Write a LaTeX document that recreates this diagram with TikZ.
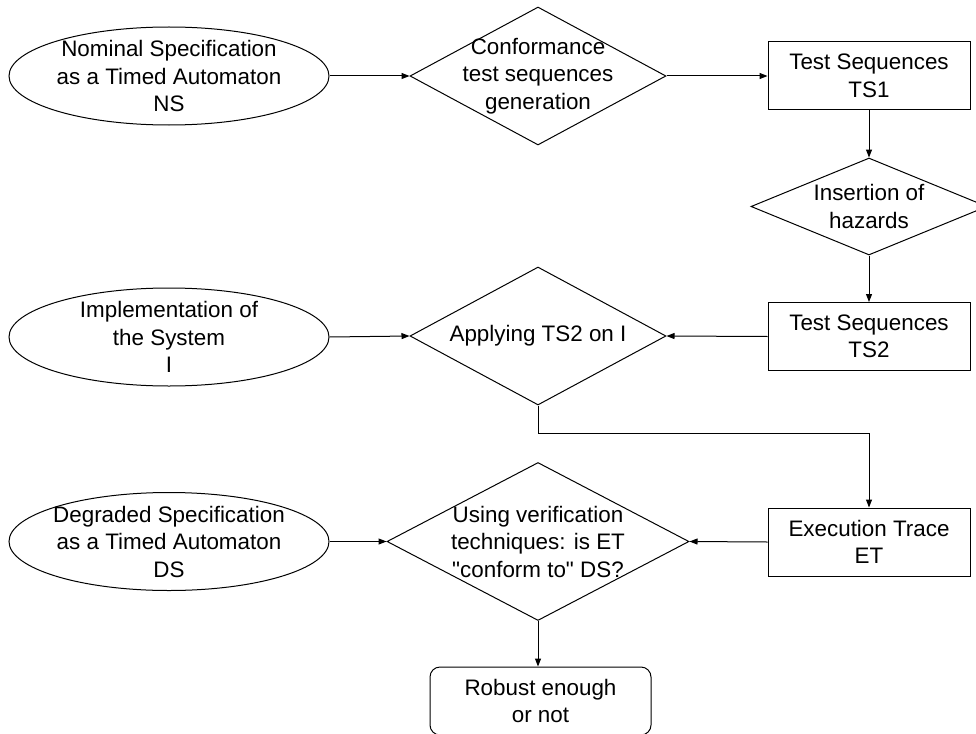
\documentclass[tikz,border=0pt]{standalone}
\usepackage{fontspec}
\setmainfont{Liberation Sans}[Ligatures=TeXOff]
\usetikzlibrary{shapes.geometric,arrows.meta}
\begin{document}
\begin{tikzpicture}[x=1pt,y=-1pt,
  every node/.style={font=\fontsize{22.4}{27.5}\selectfont, align=center, inner sep=0pt},
  ell/.style={ellipse, draw, line width=1pt, minimum width=320pt, minimum height=98pt},
  dia/.style={diamond, draw, line width=1pt},
  box/.style={rectangle, draw, line width=1pt, minimum width=202pt, minimum height=68pt},
  rbox/.style={rectangle, rounded corners=10pt, draw, line width=1pt, minimum width=221pt, minimum height=68pt},
  arr/.style={line width=1pt, -{Triangle[length=8pt,width=6pt]}}]
\useasboundingbox (0,0) rectangle (976,733);
% row 1
\node[ell] (ns) at (169,76) {};
\node (nst) at (169,76) {Nominal Specification\\as a Timed Automaton\\NS};
\node[dia, minimum width=256pt, minimum height=138pt] (d1) at (538,76) {};
\node (d1t) at (538,76) {Conformance\\test sequences\\generation};
\node[box] (ts1) at (869,76) {Test Sequences\\TS1};
% insertion
\node[dia, minimum width=236pt, minimum height=97pt] (d2) at (869,206.5) {};
\node (d2t) at (869,206.5) {Insertion of\\hazards};
% row 2
\node[box] (ts2) at (869,336.5) {Test Sequences\\TS2};
\node[ell] (impl) at (169,337) {};
\node (implt) at (169,337) {Implementation of\\the System\\I};
\node[dia, minimum width=256pt, minimum height=138pt] (d3) at (538,336) {};
\node (d3t) at (538,336) {Applying TS2 on I};
% row 3
\node[box] (et) at (869,542) {Execution Trace\\ET};
\node[ell] (ds) at (169,541.5) {};
\node (dst) at (169,541.5) {Degraded Specification\\as a Timed Automaton\\DS};
\node[dia, minimum width=302pt, minimum height=158pt] (d4) at (538,541.5) {};
\node (d4t) at (538,541.5) {Using verification\\techniques: is ET\\"conform to" DS?};
\node[rbox] (res) at (540.5,701) {Robust enough\\or not};
% connectors
\draw[arr] (ns.east) -- (d1.west);
\draw[arr] (d1.east) -- (ts1.west);
\draw[arr] (ts1.south) -- (d2.north);
\draw[arr] (d2.south) -- (ts2.north);
\draw[arr] (ts2.west) -- (d3.east);
\draw[arr] (impl.east) -- (d3.west);
\draw[arr] (d3.south) -- ++(0,28) -| (et.north);
\draw[arr] (et.west) -- (d4.east);
\draw[arr] (ds.east) -- (d4.west);
\draw[arr] (d4.south) -- (d4.south |- res.north);
\end{tikzpicture}
\end{document}
